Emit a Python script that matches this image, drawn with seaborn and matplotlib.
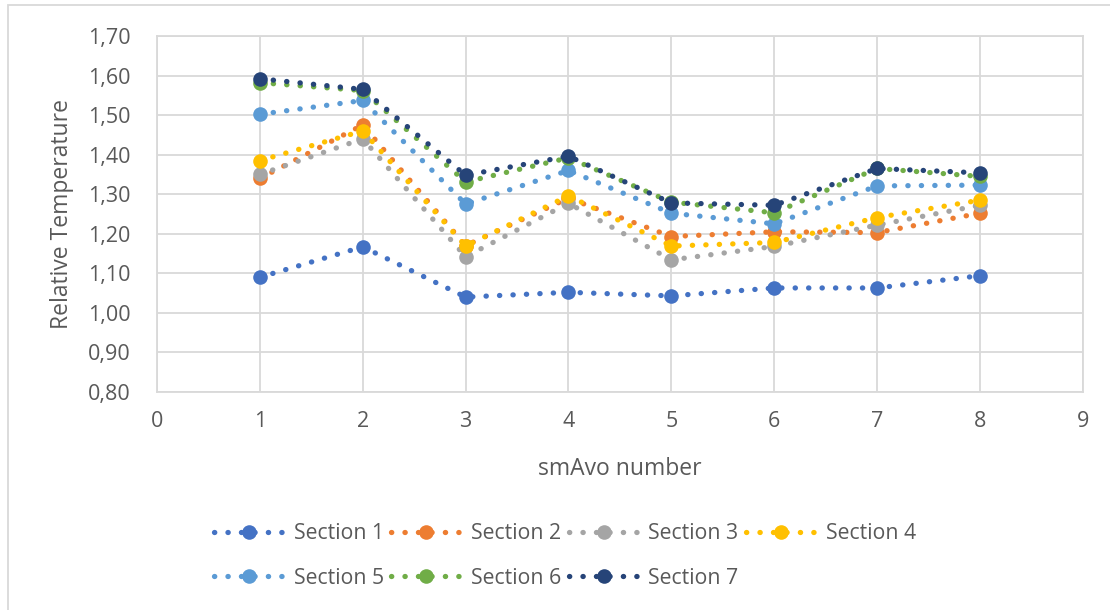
import matplotlib
matplotlib.use("Agg")
import matplotlib.pyplot as plt
from matplotlib.lines import Line2D
from matplotlib.patches import Rectangle
from matplotlib.ticker import FuncFormatter, MultipleLocator
import seaborn as sns
import pandas as pd

# ---- data ----
smavo = [1, 2, 3, 4, 5, 6, 7, 8]
sections = ["Section 1", "Section 2", "Section 3", "Section 4",
            "Section 5", "Section 6", "Section 7"]
section_1 = [1.090, 1.167, 1.040, 1.052, 1.043, 1.063, 1.063, 1.094]
section_2 = [1.340, 1.475, 1.170, 1.290, 1.193, 1.205, 1.203, 1.252]
section_3 = [1.350, 1.440, 1.142, 1.277, 1.134, 1.168, 1.222, 1.272]
section_4 = [1.385, 1.460, 1.169, 1.296, 1.169, 1.178, 1.241, 1.285]
section_5 = [1.502, 1.537, 1.275, 1.360, 1.252, 1.225, 1.321, 1.323]
section_6 = [1.582, 1.562, 1.331, 1.392, 1.280, 1.253, 1.365, 1.345]
section_7 = [1.592, 1.565, 1.348, 1.396, 1.278, 1.272, 1.365, 1.354]
series = [section_1, section_2, section_3, section_4, section_5, section_6, section_7]
colors = ["#4472C4", "#ED7D31", "#A5A5A5", "#FFC000", "#5B9BD5", "#70AD47", "#264478"]

rows = []
for name, vals in zip(sections, series):
    for x, v in zip(smavo, vals):
        rows.append({"smAvo number": x, "Relative Temperature": v, "Section": name})
df = pd.DataFrame(rows)

sns.set_theme(style="white")
plt.rcParams["font.family"] = ["Open Sans", "DejaVu Sans"]
text_color = "#595959"
grid_color = "#D9D9D9"

fig = plt.figure(figsize=(11.1, 6.1), dpi=100)
ax = fig.add_axes([0.1414, 0.3574, 0.8342, 0.5836])

dotted = (0, (0.05, 2.5))
sns.lineplot(data=df, x="smAvo number", y="Relative Temperature", hue="Section",
             hue_order=sections, palette=colors, ax=ax, legend=False,
             marker="o", markersize=10.5, markeredgewidth=0,
             linewidth=3.8, linestyle=dotted, dash_capstyle="round")

ax.set_xlim(0, 9)
ax.set_ylim(0.8, 1.7)
ax.xaxis.set_major_locator(MultipleLocator(1))
ax.yaxis.set_major_locator(MultipleLocator(0.1))
ax.yaxis.set_major_formatter(FuncFormatter(lambda v, p: f"{v:.2f}".replace(".", ",")))
ax.grid(True, color=grid_color, linewidth=1.3)
ax.set_axisbelow(True)
for s in ax.spines.values():
    s.set_color(grid_color)
    s.set_linewidth(1.3)
ax.tick_params(axis="both", length=0, labelsize=15.5, colors=text_color)
ax.tick_params(axis="y", pad=19)
ax.tick_params(axis="x", pad=14)
ax.set_xlabel("smAvo number", fontsize=16.5, color=text_color, labelpad=18)
ax.set_ylabel("Relative Temperature", fontsize=16.5, color=text_color, labelpad=10)

handles = [Line2D([0], [0], color=c, linewidth=3.8, linestyle=dotted,
                  dash_capstyle="round", marker="o", markersize=10.5,
                  markeredgewidth=0) for c in colors]
# order so that the legend reads row by row (matplotlib fills column-wise)
order = [0, 4, 1, 5, 2, 6, 3]
leg = fig.legend([handles[i] for i in order], [sections[i] for i in order],
                 ncol=4, loc="center",
                 bbox_to_anchor=(0.509, 0.0885), frameon=False,
                 fontsize=15.3, handlelength=3.3, handletextpad=0.45,
                 columnspacing=0.35, labelspacing=1.1, numpoints=1)
for t in leg.get_texts():
    t.set_color(text_color)

fig.patches.append(Rectangle((8 / 1110, -0.05), 1.2, 1 - 5 / 610 + 0.05,
                             transform=fig.transFigure, fill=False,
                             edgecolor=grid_color, linewidth=1.3))

fig.savefig("out.png", dpi=100, facecolor="white")
